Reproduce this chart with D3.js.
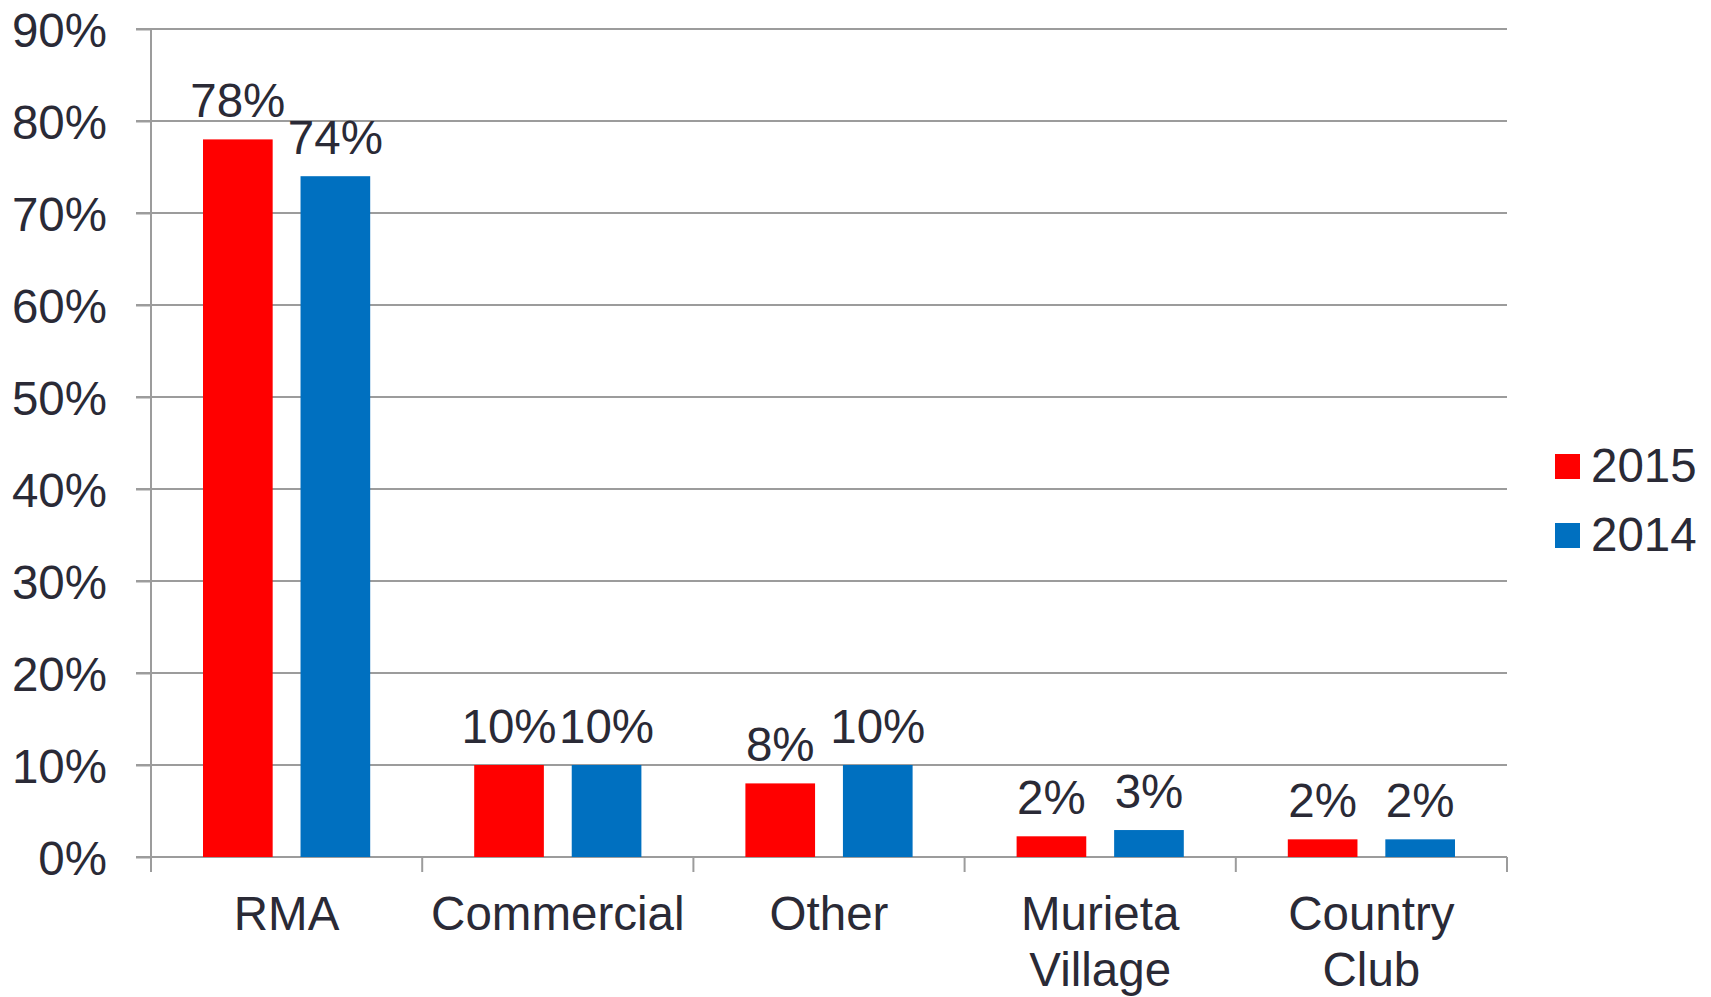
<!DOCTYPE html>
<html>
<head>
<meta charset="utf-8">
<script src="https://cdn.jsdelivr.net/npm/d3@7"></script>
<style>
  body { margin: 0; background: #fff; }
  svg text { font-family: "Liberation Sans", Arial, sans-serif; fill: #2a2a36; }
</style>
</head>
<body>
<script>
// data
let categories = [['RMA'], ['Commercial'], ['Other'], ['Murieta', 'Village'], ['Country', 'Club']];
let seriesNames = ['2015', '2014'];
let values2015 = [78, 10, 8, 2.25, 1.92];
let values2014 = [74, 10, 10, 2.93, 1.92];
let labels2015 = ['78%', '10%', '8%', '2%', '2%'];
let labels2014 = ['74%', '10%', '10%', '3%', '2%'];
let yTicks = [0, 10, 20, 30, 40, 50, 60, 70, 80, 90];
let colors = ['#ff0000', '#0070c0'];

let w = 1711, h = 997;
let padLeft = 151, padRight = 1507, padTop = 29, padBottom = 857;
let fontSize = 47.5;
let gridColor = '#9c9c9c';

let svg = d3.select('body').append('svg')
  .attr('width', w)
  .attr('height', h);

let catKeys = categories.map(c => c.join(' '));

//scales
let y = d3.scaleLinear().domain([0, 90]).range([padBottom, padTop]);
let x0 = d3.scaleBand().domain(catKeys).range([padLeft, padRight]);
let x1 = d3.scaleBand().domain(seriesNames).range([52, x0.bandwidth() - 52]).paddingInner(0.2857);

// gridlines
svg.append('g')
  .selectAll('line')
  .data(yTicks.slice(1))
  .enter().append('line')
  .attr('x1', padLeft - 15).attr('x2', padRight)
  .attr('y1', d => y(d)).attr('y2', d => y(d))
  .attr('stroke', gridColor).attr('stroke-width', 2);

// y axis
let yAxis = d3.axisLeft(y).tickValues(yTicks).tickSize(15).tickPadding(29).tickFormat(d => d + '%');
let gy = svg.append('g').attr('transform', 'translate(' + padLeft + ',0)').call(yAxis);
gy.select('.domain').remove();
gy.attr('font-family', null).attr('font-size', null);
gy.selectAll('line').attr('stroke', gridColor).attr('stroke-width', 2);
gy.selectAll('text').attr('font-size', fontSize).attr('dy', '0.36em').style('fill', '#2a2a36');
gy.append('line').attr('x1', 0).attr('x2', 0).attr('y1', padTop).attr('y2', padBottom + 15)
  .attr('stroke', gridColor).attr('stroke-width', 2);

// x axis
let bounds = catKeys.map(k => x0(k)).concat([padRight]);
svg.append('line').attr('x1', padLeft - 15).attr('x2', padRight).attr('y1', padBottom).attr('y2', padBottom)
  .attr('stroke', gridColor).attr('stroke-width', 2);
svg.append('g').selectAll('line')
  .data(bounds.slice(1))
  .enter().append('line')
  .attr('x1', d => d).attr('x2', d => d)
  .attr('y1', padBottom).attr('y2', padBottom + 15)
  .attr('stroke', gridColor).attr('stroke-width', 2);

svg.append('g').selectAll('text')
  .data(categories)
  .enter().append('text')
  .attr('x', (d, i) => x0(catKeys[i]) + x0.bandwidth() / 2)
  .attr('y', 930)
  .attr('text-anchor', 'middle')
  .attr('font-size', fontSize)
  .each(function (d) {
    let t = d3.select(this);
    d.forEach((line, j) => {
      t.append('tspan')
        .attr('x', t.attr('x'))
        .attr('dy', j === 0 ? 0 : 56)
        .text(line);
    });
  });

// bars
let series = [values2015, values2014];
let seriesLabels = [labels2015, labels2014];

series.forEach((vals, s) => {
  let g = svg.append('g');
  g.selectAll('rect')
    .data(vals)
    .enter().append('rect')
    .attr('x', (d, i) => x0(catKeys[i]) + x1(seriesNames[s]))
    .attr('y', d => y(d))
    .attr('width', x1.bandwidth())
    .attr('height', d => padBottom - y(d))
    .attr('fill', colors[s]);

  g.selectAll('text')
    .data(vals)
    .enter().append('text')
    .attr('x', (d, i) => x0(catKeys[i]) + x1(seriesNames[s]) + x1.bandwidth() / 2)
    .attr('y', d => y(d) - 22)
    .attr('text-anchor', 'middle')
    .attr('font-size', fontSize)
    .text((d, i) => seriesLabels[s][i]);
});

// legend
let legend = svg.append('g').attr('transform', 'translate(1555,454)');
seriesNames.forEach((name, i) => {
  legend.append('rect')
    .attr('x', 0).attr('y', i * 69)
    .attr('width', 25).attr('height', 25)
    .attr('fill', colors[i]);
  legend.append('text')
    .attr('x', 36).attr('y', i * 69 + 28)
    .attr('font-size', fontSize)
    .text(name);
});
</script>
</body>
</html>
